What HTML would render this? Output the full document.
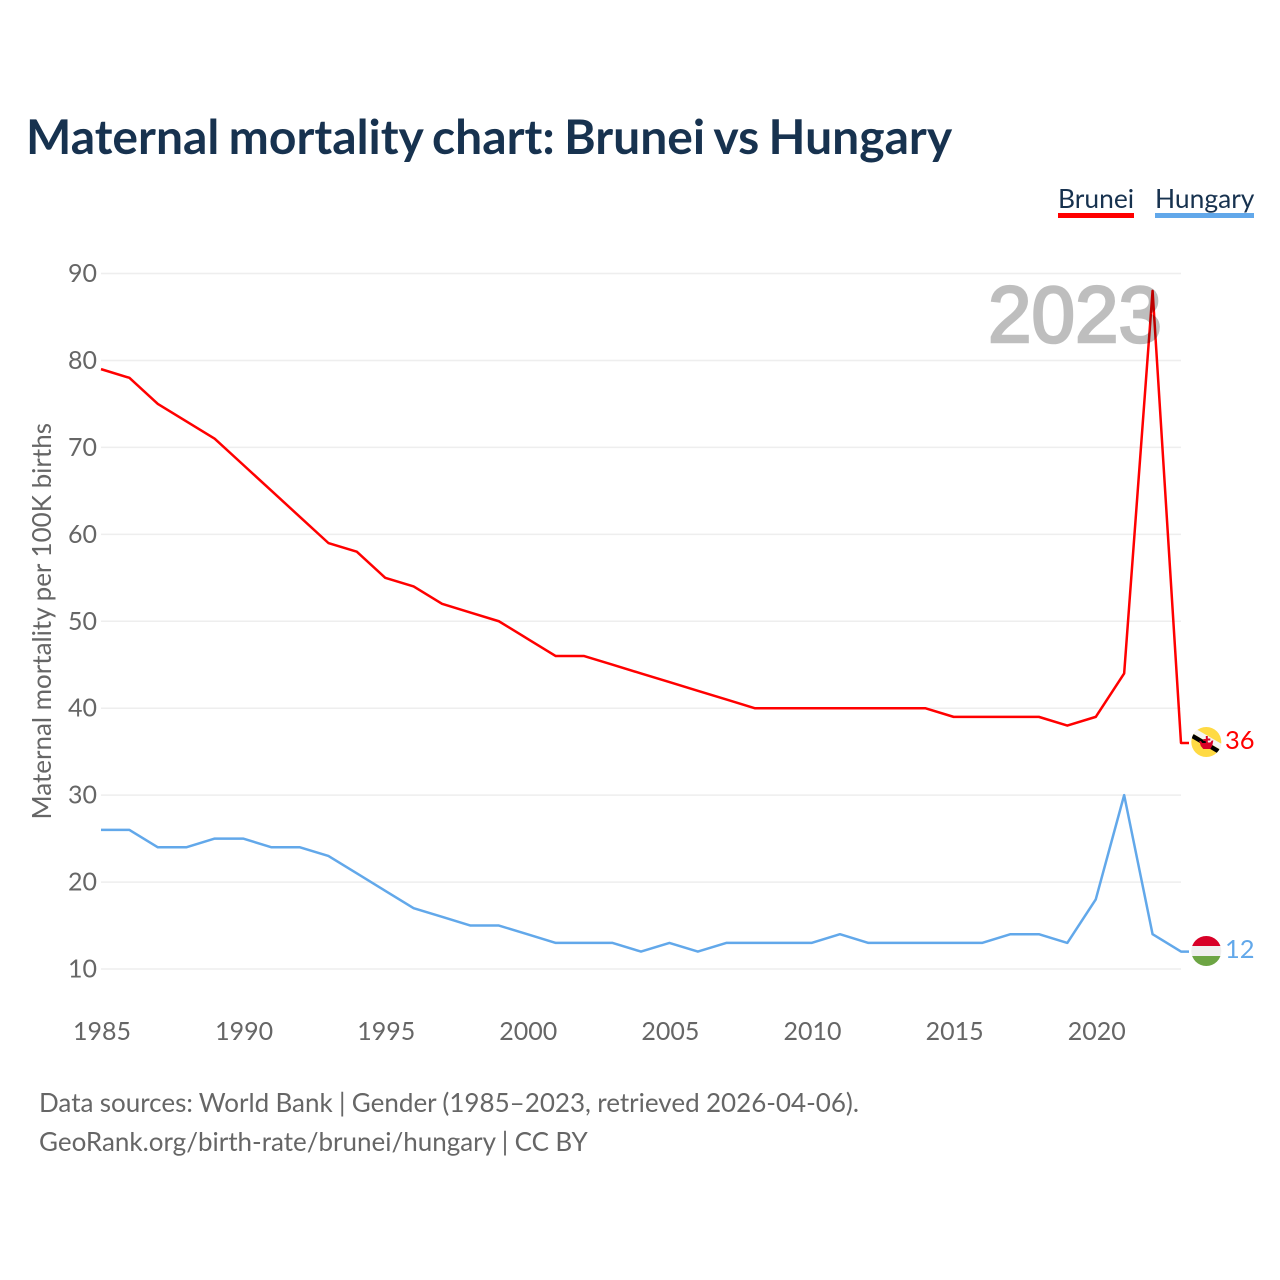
<!DOCTYPE html>
<html lang="en">
<head>
<meta charset="utf-8">
<title>Maternal mortality chart: Brunei vs Hungary</title>
<style>
html,body{margin:0;padding:0;background:#fff;width:1280px;height:1280px;overflow:hidden}
svg{display:block}
text{font-family:"Lato","Carlito","Liberation Sans",sans-serif}
</style>
</head>
<body>
<svg id="chart" xmlns="http://www.w3.org/2000/svg" width="1280" height="1280" viewBox="0 0 1280 1280">
  <defs>
    <clipPath id="clip-brunei"><circle cx="1206.3" cy="742" r="15"/></clipPath>
    <clipPath id="clip-hungary"><circle cx="1206.3" cy="951" r="15"/></clipPath>
  </defs>
  <text x="26" y="154" font-size="48" font-weight="700" fill="#17324f" word-spacing="-2.3">Maternal mortality chart: Brunei vs Hungary</text>

  <g>
    <g>
      <text x="1058" y="208" font-size="26.4" fill="#17324f">Brunei</text>
      <rect x="1058" y="213" width="76" height="5" fill="#ff0000"/>
    </g>
    <g>
      <text x="1155" y="208" font-size="26.4" fill="#17324f">Hungary</text>
      <rect x="1155" y="213" width="99" height="5" fill="#62a8ea"/>
    </g>
  </g>

  <g id="grid"></g>
  <g id="y-ticks"></g>
  <g id="x-ticks"></g>

  <text transform="translate(51,819.5) rotate(-90)" x="0" y="0" font-size="26" fill="#666666">Maternal mortality per 100K births</text>

  <g id="series"></g>

  <text x="988" y="342" font-size="80" fill="#000000" stroke="#000000" stroke-width="2.6" opacity="0.25" style="font-family:'Liberation Sans',sans-serif" textLength="174" lengthAdjust="spacingAndGlyphs">2023</text>

  <g clip-path="url(#clip-brunei)">
    <rect x="1190" y="726" width="32" height="32" fill="#ffda44"/>
    <line x1="1194" y1="731" x2="1224" y2="748.5" stroke="#f4f4f4" stroke-width="5.5"/>
    <line x1="1191" y1="735.2" x2="1221" y2="752.7" stroke="#000000" stroke-width="4.4"/>
    <path d="M1205.8,736h2v2.5h2.5v2h-2.5v2h2.5l1.5,-2h1.5l-1,5l-2,3.5h-7l-2.5,-3l-1.5,-5h1.5l1.5,2h3.5v-2h-2.5v-2h2.5z" fill="#d80027"/>
  </g>
  <g clip-path="url(#clip-hungary)">
    <rect x="1190" y="935" width="32" height="11" fill="#d80027"/>
    <rect x="1190" y="946" width="32" height="10" fill="#f0f0f0"/>
    <rect x="1190" y="956" width="32" height="11" fill="#6da544"/>
  </g>

  <text id="end-label-brunei" x="1225" y="749" font-size="25.5" fill="#ff0000"></text>
  <text id="end-label-hungary" x="1225" y="958" font-size="25.5" fill="#62a8ea"></text>

  <text x="39" y="1112" font-size="26" fill="#666666" word-spacing="-0.35">Data sources: World Bank | Gender (1985–2023, retrieved 2026-04-06).</text>
  <text x="39" y="1151" font-size="26" fill="#666666" word-spacing="-0.3">GeoRank.org/birth-rate/brunei/hungary | CC BY</text>
</svg>
<script>
const years = [1985,1986,1987,1988,1989,1990,1991,1992,1993,1994,1995,1996,1997,1998,1999,2000,2001,2002,2003,2004,2005,2006,2007,2008,2009,2010,2011,2012,2013,2014,2015,2016,2017,2018,2019,2020,2021,2022,2023];
const bruneiValues = [79,78,75,73,71,68,65,62,59,58,55,54,52,51,50,48,46,46,45,44,43,42,41,40,40,40,40,40,40,40,39,39,39,39,38,39,44,88,36];
const hungaryValues = [26,26,24,24,25,25,24,24,23,21,19,17,16,15,15,14,13,13,13,12,13,12,13,13,13,13,14,13,13,13,13,13,14,14,13,18,30,14,12];
const yTickValues = [10,20,30,40,50,60,70,80,90];
const xTickValues = [1985,1990,1995,2000,2005,2010,2015,2020];

const NS = 'http://www.w3.org/2000/svg';
const plotLeft = 101, plotRight = 1181, yAt10 = 969, yAt90 = 273.5;
const xMin = years[0], xMax = years[years.length - 1];

function xScale(v) {
  return plotLeft + (v - xMin) * (plotRight - plotLeft) / (xMax - xMin);
}
function yScale(v) {
  return yAt10 + (v - 10) * (yAt90 - yAt10) / 80;
}

const gridGroup = document.getElementById('grid');
const yTickGroup = document.getElementById('y-ticks');
const xTickGroup = document.getElementById('x-ticks');
const seriesGroup = document.getElementById('series');

yTickValues.forEach(function (v) {
  const line = document.createElementNS(NS, 'line');
  
  
  line.setAttribute('x1', plotLeft);
  line.setAttribute('x2', plotRight);
  line.setAttribute('y1', yScale(v));
  line.setAttribute('y2', yScale(v));
  line.setAttribute('stroke', '#eeeeee');
  line.setAttribute('stroke-width', '1.5');
  gridGroup.appendChild(line);

  const label = document.createElementNS(NS, 'text');
  
  
  label.setAttribute('x', 97);
  label.setAttribute('y', yScale(v) + 8.5);
  label.setAttribute('text-anchor', 'end');
  label.setAttribute('font-size', '25');
  label.setAttribute('fill', '#666666');
  label.textContent = String(v);
  yTickGroup.appendChild(label);
});

xTickValues.forEach(function (v) {
  const label = document.createElementNS(NS, 'text');
  
  
  label.setAttribute('x', xScale(v) + 1);
  label.setAttribute('y', 1040);
  label.setAttribute('text-anchor', 'middle');
  label.setAttribute('font-size', '25');
  label.setAttribute('fill', '#666666');
  label.textContent = String(v);
  xTickGroup.appendChild(label);
});

function drawSeries(values, color, name) {
  const last = values[values.length - 1];
  const pts = values.map(function (v, i) {
    return xScale(years[i]).toFixed(2) + ',' + yScale(v).toFixed(2);
  });
  pts.push((xScale(xMax) + 8).toFixed(2) + ',' + yScale(last).toFixed(2));
  const line = document.createElementNS(NS, 'polyline');
  
  
  line.setAttribute('points', pts.join(' '));
  line.setAttribute('fill', 'none');
  line.setAttribute('stroke', color);
  line.setAttribute('stroke-width', '2.5');
  line.setAttribute('stroke-linejoin', 'round');
  seriesGroup.appendChild(line);
}

drawSeries(hungaryValues, '#62a8ea', 'line-hungary');
drawSeries(bruneiValues, '#ff0000', 'line-brunei');

document.getElementById('end-label-brunei').textContent = String(bruneiValues[bruneiValues.length - 1]);
document.getElementById('end-label-hungary').textContent = String(hungaryValues[hungaryValues.length - 1]);
</script>
</body>
</html>
